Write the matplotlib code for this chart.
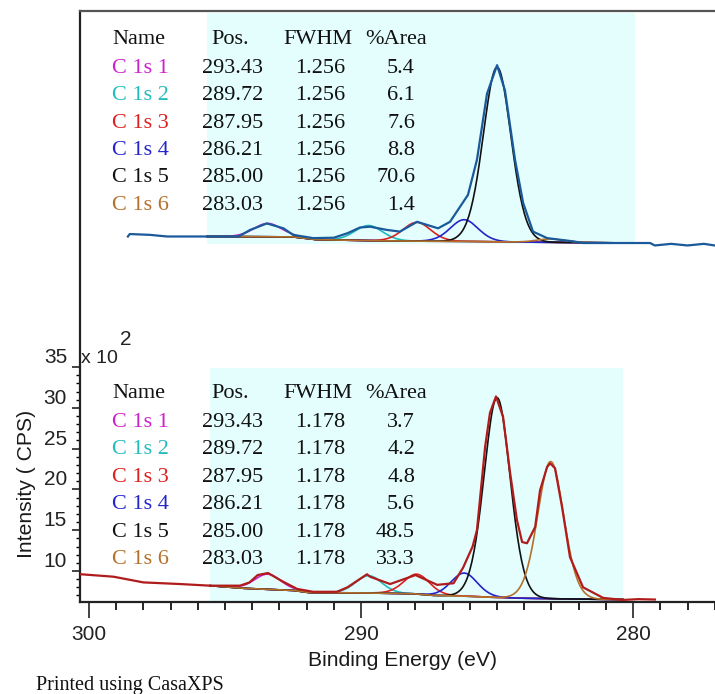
import numpy as np
import matplotlib
matplotlib.use("Agg")  # no display

import matplotlib.pyplot as plt

# --- fit table (same peak positions in both spectra) ---
names = ["C 1s 1", "C 1s 2", "C 1s 3", "C 1s 4", "C 1s 5", "C 1s 6"]
positions = [293.43, 289.72, 287.95, 286.21, 285.00, 283.03]
colors = ["#cc22cc", "#22bbbb", "#dd2020", "#2424cc", "#111111", "#b5702a"]

fwhm_top = 1.256
area_top = [5.4, 6.1, 7.6, 8.8, 70.6, 1.4]
fwhm_bot = 1.178
area_bot = [3.7, 4.2, 4.8, 5.6, 48.5, 33.3]

# height of the C 1s 5 component above background (x 10^2 CPS)
h5_top = 21.4
h5_bot = 24.5

# --- upper spectrum (drawn offset above the lower one) ---
top_be = [298.57, 298.5, 297.76, 297.13, 296.5, 295.9, 294.5, 294.08, 293.46, 292.85,
          292.5, 291.76, 291.0, 290.5, 290.04, 289.67, 289.04, 288.57, 287.94, 287.17,
          286.73, 286.07, 285.74, 285.37, 285.0, 284.71, 284.34, 284.04, 283.68, 283.16,
          282.2, 281.84, 280.5, 279.38, 279.2, 278.6, 278.0, 277.4, 277.0]
top_cps = [51.0, 51.3, 51.2, 51.0, 51.0, 51.0, 51.0, 51.8, 52.6, 52.0,
           51.2, 50.8, 50.85, 51.4, 52.1, 52.2, 51.8, 51.6, 52.8, 52.0,
           52.8, 56.1, 60.4, 68.5, 72.0, 68.9, 60.4, 55.1, 51.6, 50.8,
           50.4, 50.2, 50.2, 50.2, 49.9, 50.1, 49.9, 50.1, 49.9]
top_bg_be = [295.66, 292.5, 291.6, 288.9, 286.5, 285.0, 284.0, 279.93]
top_bg = [51.0, 50.95, 50.6, 50.45, 50.4, 50.35, 50.3, 50.2]

# --- lower spectrum ---
bot_be = [300.3, 299.1, 298.0, 296.65, 295.55, 294.45, 294.1, 293.8, 293.42, 292.87,
          292.35, 291.76, 290.88, 290.5, 289.78, 289.67, 288.93, 288.0, 287.2, 286.6,
          286.25, 285.9, 285.74, 285.44, 285.26, 285.04, 284.78, 284.52, 284.27, 284.08,
          283.9, 283.6, 283.42, 283.16, 283.05, 282.87, 282.61, 282.32, 281.84, 281.1,
          280.37, 279.8, 279.2]
bot_cps = [9.6, 9.3, 8.6, 8.4, 8.2, 8.2, 8.6, 9.5, 9.75, 8.7,
           7.8, 7.45, 7.45, 8.0, 9.6, 9.3, 8.4, 9.5, 8.3, 8.5,
           10.4, 13.0, 15.0, 25.2, 29.4, 31.4, 28.9, 22.0, 16.25, 13.55,
           13.4, 15.4, 19.9, 22.75, 23.2, 22.6, 17.8, 11.7, 8.0, 6.7,
           6.45, 6.55, 6.5]
bot_bg_be = [295.55, 294.2, 292.4, 291.9, 289.5, 288.0, 287.3, 286.0, 285.0, 284.0, 282.0, 280.37]
bot_bg = [8.2, 7.85, 7.6, 7.35, 7.3, 7.2, 7.0, 6.9, 6.75, 6.65, 6.55, 6.5]

W, H = 715, 694


def gl(x, pos, fwhm, height, mix=0.3):
    # CasaXPS GL(30) line shape
    d = 4 * (x - pos) ** 2 / fwhm ** 2
    return height * np.exp(-np.log(2) * (1 - mix) * d) / (1 + mix * d)


def draw_fit(ax, be, cps, bg_be, bg, fwhm, areas, h5, data_color):
    lo, hi = min(bg_be), max(bg_be)
    x = np.linspace(lo, hi, 400)
    base = np.interp(x, bg_be[::-1], bg[::-1])
    for pos, area, c in zip(positions, areas, colors):
        h = h5 * area / areas[4]
        ax.plot(x, base + gl(x, pos, fwhm, h), color=c, lw=1.2, zorder=2)
    ax.plot(be, cps, color=data_color, lw=1.6, zorder=3)


def draw_table(fig, y_head, fwhm, areas):
    font = dict(family=["Liberation Serif"], fontsize=16, va="baseline")
    fig.text(112 / W, 1 - y_head / H, "Name", ha="left", color="#111", **font)
    fig.text(230 / W, 1 - y_head / H, "Pos.", ha="center", color="#111", **font)
    fig.text(318 / W, 1 - y_head / H, "FWHM", ha="center", color="#111", **font)
    fig.text(396 / W, 1 - y_head / H, "%Area", ha="center", color="#111", **font)
    y = y_head + 28.7
    for name, pos, area, c in zip(names, positions, areas, colors):
        fig.text(112 / W, 1 - y / H, name, ha="left", color=c, **font)
        fig.text(263 / W, 1 - y / H, f"{pos:.2f}", ha="right", color="#111", **font)
        fig.text(345 / W, 1 - y / H, f"{fwhm:.3f}", ha="right", color="#111", **font)
        fig.text(415 / W, 1 - y / H, f"{area:.1f}", ha="right", color="#111", **font)
        y += 27.45


fig = plt.figure(figsize=(W / 100, H / 100), dpi=100)
ax = fig.add_axes([80 / W, 1 - 601.5 / H, 635 / W, 591 / H])
ax.set_xlim(300.33, 276.99)
ax.set_ylim(6.26, 78.7)

# fit regions (light cyan)
ax.fill_between([max(top_bg_be), min(top_bg_be)], 50.07, 78.4, color="#e4fefe", lw=0, zorder=0)
ax.fill_between([max(bot_bg_be), min(bot_bg_be)], 6.26, 34.9, color="#e4fefe", lw=0, zorder=0)

draw_fit(ax, top_be, top_cps, top_bg_be, top_bg, fwhm_top, area_top, h5_top, "#1b5a9a")
draw_fit(ax, bot_be, bot_cps, bot_bg_be, bot_bg, fwhm_bot, area_bot, h5_bot, "#b01c1c")

# axes styling
for s in ["left", "bottom"]:
    ax.spines[s].set_color("#222")
    ax.spines[s].set_linewidth(1.6)
ax.spines["top"].set_color("#555")
ax.spines["top"].set_linewidth(1.6)
ax.spines["right"].set_visible(False)

ax.set_xticks([300, 290, 280])
ax.set_xticks(np.arange(277, 301, 1), minor=True)
ax.set_yticks([10, 15, 20, 25, 30, 35])
ax.set_yticks(np.arange(7, 36, 1), minor=True)
ax.tick_params(axis="x", which="major", direction="out", length=11.5, width=1.2, pad=5.5,
               labelsize=15, colors="#222")
ax.tick_params(axis="x", which="minor", direction="out", length=6, width=1.2)
ax.tick_params(axis="y", which="major", direction="out", length=5.8, width=1.2, pad=3.5,
               labelsize=15, colors="#222")
ax.tick_params(axis="y", which="minor", direction="out", length=3, width=1.0)
for t in ax.get_xticklabels() + ax.get_yticklabels():
    t.set_fontfamily("Liberation Sans")
for t in ax.get_yticklabels():
    t.set_verticalalignment("bottom")

sans = ["Liberation Sans"]
fig.text(81 / W, 1 - 363 / H, "x 10", family=sans, fontsize=14, color="#222", va="baseline")
fig.text(120 / W, 1 - 345 / H, "2", family=sans, fontsize=15, color="#222", va="baseline")
fig.text(403 / W, 1 - 666 / H, "Binding Energy (eV)", family=sans, fontsize=15.2,
         color="#1a1a1a", ha="center", va="baseline")
fig.text(27 / W, 1 - 484 / H, "Intensity ( CPS)", family=sans, fontsize=15.2,
         color="#1a1a1a", ha="center", va="center", rotation=90)
fig.text(36 / W, 1 - 690 / H, "Printed using CasaXPS", family=["Liberation Serif"],
         fontsize=14.5, color="#111", va="baseline")

draw_table(fig, 44, fwhm_top, area_top)
draw_table(fig, 398.3, fwhm_bot, area_bot)

fig.savefig("out.png", dpi=100)
